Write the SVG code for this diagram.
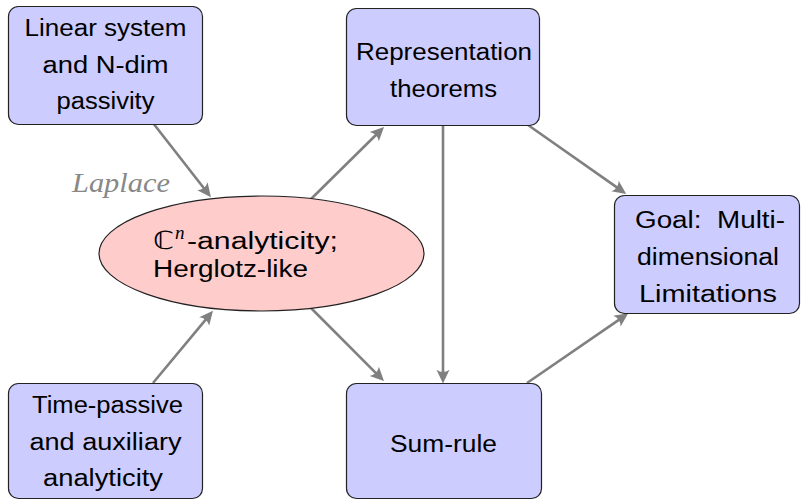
<svg xmlns="http://www.w3.org/2000/svg" width="805" height="501" viewBox="0 0 805 501">
<defs>
<marker id="ah" markerUnits="userSpaceOnUse" markerWidth="20" markerHeight="20" viewBox="-8 -8 16 16" refX="0" refY="0" orient="auto">
<path d="M6,0 L-5,-5.2 Q-1.5,0 -5,5.2 Z" fill="#808080"/>
</marker>
</defs>
<style>
.box{fill:#ccccff;stroke:#222;stroke-width:1.2}
.ell{fill:#ffcccc;stroke:#222;stroke-width:1.2}
.t{font-family:"Liberation Sans","DejaVu Sans",sans-serif;font-size:23px;fill:#000;text-anchor:middle}
.tl{font-family:"Liberation Sans","DejaVu Sans",sans-serif;font-size:23px;fill:#000}
.bb{font-family:"DejaVu Sans",sans-serif;font-size:25px;fill:#000}
.sup{font-family:"Liberation Serif","DejaVu Serif",serif;font-style:italic;font-size:19px;fill:#000}
.lap{font-family:"Liberation Serif","DejaVu Serif",serif;font-style:italic;font-size:27px;fill:#888}
.c{stroke:#808080;stroke-width:2.6;fill:none;marker-end:url(#ah)}
</style>
<g id="connectors">
<line class="c" x1="153" y1="123" x2="206.3" y2="191.3"/>
<line class="c" x1="153" y1="383" x2="208.2" y2="316.6"/>
<line class="c" x1="310" y1="200" x2="378.7" y2="132.2"/>
<line class="c" x1="310" y1="307" x2="378.7" y2="375.8"/>
<line class="c" x1="443" y1="125" x2="443" y2="376"/>
<line class="c" x1="528" y1="125" x2="620.1" y2="189.6"/>
<line class="c" x1="527" y1="383" x2="622.1" y2="317.6"/>
</g>
<g id="laplace-label">
<text class="lap" x="72" y="192" textLength="98" lengthAdjust="spacingAndGlyphs">Laplace</text>
</g>
<g id="linear">
<rect class="box" x="8.5" y="6.5" width="194" height="118" rx="10"/>
<text class="t" x="105.5" y="36" textLength="162" lengthAdjust="spacingAndGlyphs">Linear system</text>
<text class="t" x="105.5" y="73" textLength="126" lengthAdjust="spacingAndGlyphs">and N-dim</text>
<text class="t" x="105.5" y="109" textLength="98" lengthAdjust="spacingAndGlyphs">passivity</text>
</g>
<g id="representation">
<rect class="box" x="346.5" y="8.5" width="193" height="117" rx="10"/>
<text class="t" x="444" y="60" textLength="176" lengthAdjust="spacingAndGlyphs">Representation</text>
<text class="t" x="443.5" y="97" textLength="107" lengthAdjust="spacingAndGlyphs">theorems</text>
</g>
<g id="analyticity">
<ellipse class="ell" cx="261.5" cy="253.5" rx="162.5" ry="57.5"/>
<text class="bb" x="153" y="249" textLength="21" lengthAdjust="spacingAndGlyphs">ℂ</text>
<text class="sup" x="175" y="239">n</text>
<text class="tl" x="187" y="249" textLength="151" lengthAdjust="spacingAndGlyphs">-analyticity;</text>
<text class="tl" x="153" y="277" textLength="155" lengthAdjust="spacingAndGlyphs">Herglotz-like</text>
</g>
<g id="goal">
<rect class="box" x="614.5" y="195.5" width="185" height="118" rx="10"/>
<text class="t" x="710" y="228" xml:space="preserve" textLength="150" lengthAdjust="spacingAndGlyphs">Goal:  Multi-</text>
<text class="t" x="708" y="265" textLength="142" lengthAdjust="spacingAndGlyphs">dimensional</text>
<text class="t" x="708" y="302" textLength="138" lengthAdjust="spacingAndGlyphs">Limitations</text>
</g>
<g id="time-passive">
<rect class="box" x="8.5" y="383.5" width="194" height="115" rx="10"/>
<text class="t" x="107.5" y="413" textLength="151" lengthAdjust="spacingAndGlyphs">Time-passive</text>
<text class="t" x="105.5" y="450" textLength="152" lengthAdjust="spacingAndGlyphs">and auxiliary</text>
<text class="t" x="103" y="486" textLength="120" lengthAdjust="spacingAndGlyphs">analyticity</text>
</g>
<g id="sum-rule">
<rect class="box" x="346.5" y="383.5" width="195" height="115" rx="10"/>
<text class="t" x="443.5" y="452" textLength="107" lengthAdjust="spacingAndGlyphs">Sum-rule</text>
</g>
</svg>
